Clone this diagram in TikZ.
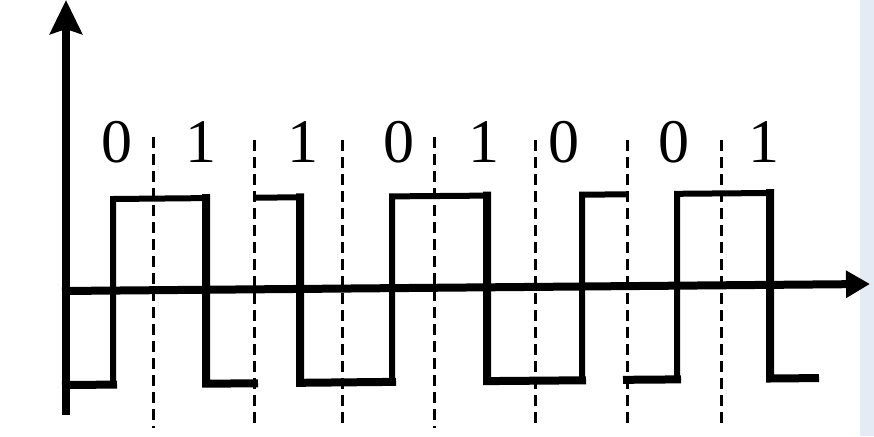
\documentclass[tikz,border=0pt]{standalone}
\usepackage{fontspec}
\setmainfont{Liberation Serif}
\usetikzlibrary{arrows.meta}
\definecolor{bandblue}{HTML}{E4EBF5}
\tikzset{
  axisline/.style={line width=8pt},
  wavehi/.style={line width=6pt, line join=miter},
  wavelo/.style={line width=8pt, line cap=rect},
  boundary/.style={line width=3pt, dash pattern=on 11pt off 6pt},
  bitlabel/.style={anchor=base, inner sep=0pt, font=\fontsize{62}{62}\selectfont}
}
\begin{document}
\begin{tikzpicture}[x=1pt,y=-1pt]
\useasboundingbox (0,0) rectangle (874,436);
\fill[white] (0,0) rectangle (874,436);
\fill[bandblue] (860,0) rectangle (874,436);
% boundaries
\foreach \x/\t in {153/137,254/140,342/140,434/137,535/140,627/140,721/140}
  \draw[boundary] (\x,\t) -- (\x,428);
% axes
\coordinate (vbot) at (66,415);
\coordinate (vtop) at (66,0);
\coordinate (hleft) at (62,291);
\coordinate (hright) at (870,284);
\draw[axisline, -{Stealth[length=34pt,width=32pt,inset=5pt]}] (vbot) -- (vtop);
\draw[axisline, -{Triangle[length=24pt,width=26pt]}] (hleft) -- (hright);
% waveform (high segments and rises)
\draw[wavehi] (66,385) -- (113,384.6) -- (113,199) -- (206,198.1) -- (206,383.7) -- (254,383.3);
\draw[wavehi] (254,197.7) -- (300,197.3) -- (300,382.8) -- (392,381.9) -- (392,196.4) -- (487,195.6) -- (487,381.1) -- (582,380.3) -- (582,194.7) -- (627,194.3);
\draw[wavehi] (627,379.8) -- (677,379.4) -- (677,193.8) -- (770,193.0) -- (770,378.5) -- (817,378.1);
% thicker lows and falls
\draw[wavelo] (66,385) -- (113,384.6);
\draw[wavelo] (206,198.1) -- (206,383.7) -- (254,383.3);
\draw[wavelo] (300,197.3) -- (300,382.8) -- (392,381.9);
\draw[wavelo] (487,195.6) -- (487,381.1) -- (582,380.3);
\draw[wavelo] (627,379.8) -- (677,379.4);
\draw[wavelo] (770,193.0) -- (770,378.5) -- (815,378.1);
% labels
\node[bitlabel] (b1) at (117,162) {0};
\node[bitlabel] (b2) at (201,162) {1};
\node[bitlabel] (b3) at (303,162) {1};
\node[bitlabel] (b4) at (399,162) {0};
\node[bitlabel] (b5) at (484,162) {1};
\node[bitlabel] (b6) at (564,162) {0};
\node[bitlabel] (b7) at (674,162) {0};
\node[bitlabel] (b8) at (764,162) {1};
\end{tikzpicture}
\end{document}
